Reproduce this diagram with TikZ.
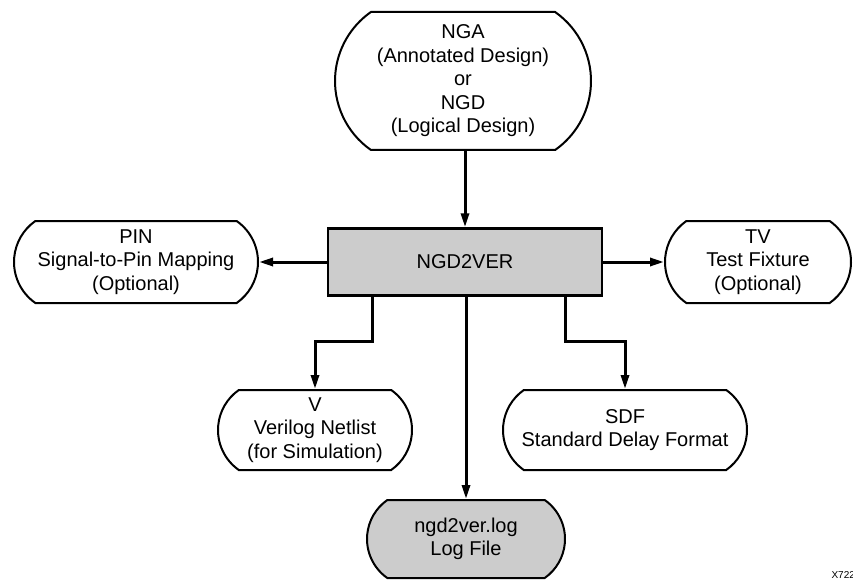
\documentclass[tikz,border=0pt]{standalone}
\usepackage{fontspec}
\setmainfont{Liberation Sans}
\usetikzlibrary{shapes.misc,arrows.meta}
\definecolor{boxgray}{HTML}{CCCCCC}
\begin{document}
\begin{tikzpicture}[x=1pt,y=-1pt,
  every node/.style={font=\fontsize{20}{23.5}\selectfont, align=center},
  term/.style={draw, line width=2pt, rounded rectangle, rounded rectangle arc length=110, inner sep=0pt},
  proc/.style={draw, line width=2.5pt, fill=boxgray, inner sep=0pt},
  conn/.style={line width=3pt, -{Triangle[length=14pt,width=8pt]}}]
\useasboundingbox (0,0) rectangle (853,580);
\node[term, minimum width=256pt, minimum height=138pt] (src) at (463,81) {NGA\\(Annotated Design)\\or\\NGD\\(Logical Design)};
\node[proc, minimum width=274pt, minimum height=67pt] (ngd) at (465,262) {NGD2VER};
\node[term, minimum width=244pt, minimum height=82pt] (pin) at (136,262) {PIN\\Signal-to-Pin Mapping\\(Optional)};
\node[term, minimum width=186pt, minimum height=82pt] (tv) at (758,262) {TV\\Test Fixture\\(Optional)};
\node[term, minimum width=194pt, minimum height=80pt] (v) at (315,430) {V\\Verilog Netlist\\(for Simulation)};
\node[term, minimum width=244pt, minimum height=80pt] (sdf) at (625,430) {SDF\\Standard Delay Format};
\node[term, fill=boxgray, minimum width=198pt, minimum height=78pt] (log) at (466,539) {ngd2ver.log\\Log File};
\node[anchor=base west, font=\fontsize{10}{12}\selectfont] (id) at (828,578) {X722};
\draw[conn] (src.south -| ngd.north) -- (ngd.north);
\draw[conn] (ngd.west) -- (pin.east);
\draw[conn] (ngd.east) -- (tv.west);
\draw[conn] ([xshift=-93pt]ngd.south) -- ++(0,45) -| (v.north);
\draw[conn] ([xshift=100pt]ngd.south) -- ++(0,45) -| (sdf.north);
\draw[conn] (ngd.south) -- (ngd.south -| log.north) -- (log.north);
\end{tikzpicture}
\end{document}
